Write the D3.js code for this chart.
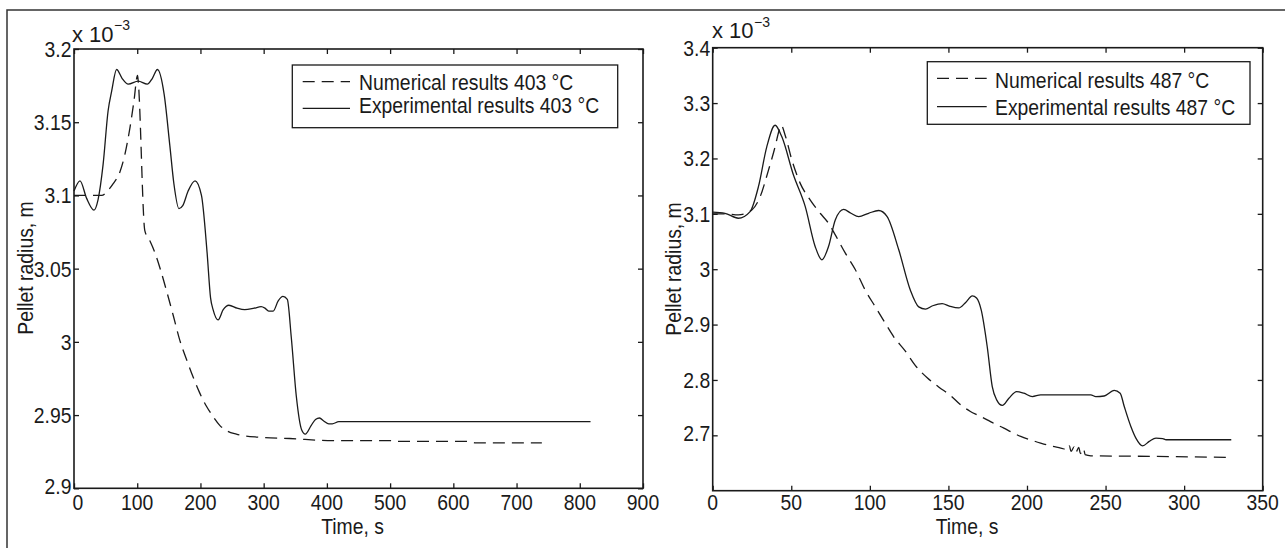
<!DOCTYPE html>
<html>
<head>
<meta charset="utf-8">
<script src="https://cdn.jsdelivr.net/npm/d3@7"></script>
<style>
  html, body { margin: 0; padding: 0; background: #fff; }
  svg { display: block; font-family: "Liberation Sans", Arial, Helvetica, sans-serif; }
  text { fill: #1a1a1a; }
</style>
</head>
<body>
<svg id="chart" width="1285" height="548"></svg>
<script>
// ---------------- DATA ----------------
// Left panel: 403 °C   (time in s, radius in 1e-3 m)
const leftXTicks = [0, 100, 200, 300, 400, 500, 600, 700, 800, 900];
const leftYTicks = [2.9, 2.95, 3, 3.05, 3.1, 3.15, 3.2];
const leftYTickLabels = ["2.9", "2.95", "3", "3.05", "3.1", "3.15", "3.2"];
const leftNumerical = [
  [0,3.100],[20,3.100],[43.7,3.100],[55,3.104],[62,3.108],[72.6,3.116],[80.5,3.128],
  [88.4,3.146],[94.7,3.164],[100.5,3.182],[101.6,3.178],[112,3.076],[120,3.069],
  [127.9,3.061],[137,3.049],[146.3,3.035],[157,3.018],[167.4,3.001],[178,2.988],
  [188.4,2.976],[199,2.965],[209.5,2.956],[220,2.949],[230.5,2.943],[243,2.939],
  [256.9,2.937],[288.4,2.935],[341,2.934],[409.5,2.9325],[505,2.9325],[512,2.932],
  [625,2.932],[635,2.931],[740,2.931]
];
const leftExperimental = [
  [0,3.103],[9.5,3.110],[20,3.098],[31.6,3.090],[38,3.097],[46,3.121],[54,3.158],
  [59.5,3.171],[67.4,3.186],[76,3.180],[85.8,3.176],[101.6,3.178],[115.8,3.176],
  [124,3.180],[132,3.186],[142.6,3.169],[151.6,3.134],[158,3.108],[166,3.091],
  [172,3.093],[180.5,3.103],[191.5,3.110],[201.6,3.100],[210.5,3.061],[216,3.030],
  [220,3.022],[227.9,3.015],[236,3.022],[245,3.025],[258,3.023],[270,3.022],
  [285,3.023],[296,3.024],[302,3.023],[308,3.021],[315,3.021],[323,3.028],
  [330.5,3.031],[337.4,3.029],[343.7,3.003],[351.6,2.963],[360,2.940],[365.8,2.937],
  [375.3,2.943],[382,2.947],[388.4,2.948],[395,2.946],[403,2.944],[408.5,2.944],
  [418.9,2.9455],[500,2.9455],[650,2.9455],[817,2.9455]
];
const leftLegend = ["Numerical results 403 \u00B0C", "Experimental results 403 \u00B0C"];

// Right panel: 487 °C
const rightXTicks = [0, 50, 100, 150, 200, 250, 300, 350];
const rightYTicks = [2.7, 2.8, 2.9, 3, 3.1, 3.2, 3.3, 3.4];
const rightYTickLabels = ["2.7", "2.8", "2.9", "3", "3.1", "3.2", "3.3", "3.4"];
const rightNumerical = [
  [0,3.100],[8,3.100],[16.3,3.098],[24.9,3.107],[30.2,3.131],[35.5,3.179],[39.7,3.221],
  [42.3,3.251],[43.6,3.260],[46.1,3.242],[50.4,3.197],[55.7,3.155],[62,3.125],
  [68.4,3.101],[73.7,3.083],[78,3.062],[84.4,3.029],[90.8,2.999],[97.1,2.962],
  [103.5,2.932],[109.9,2.902],[115.2,2.878],[122.6,2.852],[129,2.826],[136.5,2.804],
  [144,2.787],[151.3,2.772],[157,2.757],[164,2.743],[169,2.736],[174.7,2.728],
  [180,2.720],[185.3,2.713],[190,2.706],[196,2.698],[202,2.692],[208.7,2.686],
  [215,2.681],[221.5,2.677],[226,2.674],[227,2.681],[228,2.671],[230,2.679],
  [231,2.669],[233,2.678],[234,2.667],[236,2.676],[237,2.665],[240.6,2.663],
  [280,2.662],[330,2.660]
];
const rightExperimental = [
  [0,3.103],[7.8,3.101],[16.3,3.092],[23.8,3.104],[29.1,3.149],[34.4,3.221],[39.7,3.260],
  [44,3.239],[51.4,3.170],[58.9,3.113],[65.2,3.041],[69.5,3.017],[73.7,3.041],[78,3.089],
  [83.3,3.108],[88,3.101],[92.9,3.095],[99.2,3.101],[105.6,3.106],[111,3.095],
  [118.4,3.035],[125.8,2.962],[131.1,2.932],[135.4,2.928],[140,2.934],[146,2.938],
  [151,2.933],[156.6,2.930],[161,2.940],[165.2,2.952],[167.9,2.948],[170.9,2.926],
  [174.7,2.860],[177.9,2.788],[180.7,2.764],[184.3,2.754],[188.5,2.767],[193.4,2.779],
  [198,2.776],[203.4,2.770],[208.7,2.773],[240.6,2.773],[243.8,2.770],[249.1,2.771],
  [255.5,2.781],[259.3,2.776],[261.9,2.752],[266.1,2.716],[269.3,2.695],[273.6,2.681],
  [277.8,2.689],[282.1,2.695],[286.4,2.694],[288.5,2.692],[330,2.692]
];
const rightLegend = ["Numerical results 487 \u00B0C", "Experimental results 487 \u00B0C"];

const xTitle = "Time, s";
const yTitle = "Pellet radius, m";
const expBase = "x 10";
const expSup = "\u22123";

// ---------------- LAYOUT ----------------
const SX = 0.88;          // horizontal squeeze of the narrow Helvetica look
const FS = 22;            // main font size
const ink = "#1a1a1a";

const svg = d3.select("#chart");
svg.append("rect").attr("width", 1285).attr("height", 548).attr("fill", "#fff");

// outer figure frame (top and left edges visible)
svg.append("path").attr("d", "M7,548 V10 H1290")
  .attr("fill", "none").attr("stroke", "#333").attr("stroke-width", 1.5);

function label(g, x, y, s, anchor, size, rotate) {
  g.append("text")
    .attr("transform", `translate(${x},${y})` + (rotate ? ` rotate(${rotate})` : "") + ` scale(${SX},1)`)
    .attr("text-anchor", anchor)
    .attr("font-size", size)
    .text(s);
}

const panels = [
  { x0: 74, x1: 643, y0: 488.3, y1: 49, xDom: [0, 900], yDom: [2.9, 3.2],
    xTicks: leftXTicks, yTicks: leftYTicks, yLabels: leftYTickLabels, firstShift: 4,
    num: leftNumerical, exp: leftExperimental, legend: leftLegend,
    lg: { x0: 292.3, y0: 65, x1: 617.7, y1: 127.7, l0: 302.7, l1: 350, tx: 359, ly: [81.7, 108.3], ty: [89.8, 113] },
    yTitleX: 33, yTitleY: 268, xTitleX: 352.5, xTitleY: 534,
    expX: 72, expY: 41.7, supX: 114, supY: 30 },
  { x0: 712.7, x1: 1262.7, y0: 490.7, y1: 47.7, xDom: [0, 350], yDom: [2.6, 3.4],
    xTicks: rightXTicks, yTicks: rightYTicks, yLabels: rightYTickLabels, firstShift: 0,
    num: rightNumerical, exp: rightExperimental, legend: rightLegend,
    lg: { x0: 927.3, y0: 61.7, x1: 1250, y1: 124.3, l0: 937, l1: 986.7, tx: 995, ly: [78.3, 106.7], ty: [87.5, 114.5] },
    yTitleX: 681, yTitleY: 269, xTitleX: 967, xTitleY: 534,
    expX: 712, expY: 38.3, supX: 754, supY: 27 }
];

panels.forEach(p => {
  const g = svg.append("g");
  const x = d3.scaleLinear().domain(p.xDom).range([p.x0, p.x1]);
  const y = d3.scaleLinear().domain(p.yDom).range([p.y0, p.y1]);
  const TL = 5;

  // data lines
  const line = d3.line().x(d => x(d[0])).y(d => y(d[1])).curve(d3.curveMonotoneX);
  g.append("path").datum(p.num).attr("d", line)
    .attr("fill", "none").attr("stroke", ink).attr("stroke-width", 1.3)
    .attr("stroke-dasharray", "12,7");
  g.append("path").datum(p.exp).attr("d", line)
    .attr("fill", "none").attr("stroke", ink).attr("stroke-width", 1.3);

  // axes via d3 axis generators (inward ticks), labels drawn separately
  const axB = d3.axisBottom(x).tickValues(p.xTicks).tickSizeInner(-TL).tickSizeOuter(0).tickFormat("");
  const axT = d3.axisTop(x).tickValues(p.xTicks).tickSizeInner(-TL).tickSizeOuter(0).tickFormat("");
  const axL = d3.axisLeft(y).tickValues(p.yTicks).tickSizeInner(-TL).tickSizeOuter(0).tickFormat("");
  const axR = d3.axisRight(y).tickValues(p.yTicks).tickSizeInner(-TL).tickSizeOuter(0).tickFormat("");
  [[axB, `translate(0,${p.y0})`], [axT, `translate(0,${p.y1})`],
   [axL, `translate(${p.x0},0)`], [axR, `translate(${p.x1},0)`]].forEach(([ax, tr]) => {
    const a = g.append("g").attr("transform", tr).call(ax);
    a.select(".domain").remove();
    a.selectAll("line").attr("stroke", ink).attr("stroke-width", 1.3);
  });
  g.append("rect").attr("x", p.x0).attr("y", p.y1)
    .attr("width", p.x1 - p.x0).attr("height", p.y0 - p.y1)
    .attr("fill", "none").attr("stroke", ink).attr("stroke-width", 1.6);

  // tick labels
  p.xTicks.forEach((t, i) => label(g, x(t) + (i === 0 ? p.firstShift : 0), 510, String(t), "middle", FS));
  p.yTicks.forEach((t, i) => label(g, p.x0 - 2.5, y(t) + 7.9 - (i === 0 ? 2 : 0), p.yLabels[i], "end", FS));

  // exponent
  g.append("text").attr("x", p.expX).attr("y", p.expY).attr("font-size", FS).text(expBase);
  g.append("text").attr("x", p.supX).attr("y", p.supY).attr("font-size", 14).text(expSup);

  // titles
  label(g, p.xTitleX, p.xTitleY, xTitle, "middle", FS);
  label(g, p.yTitleX, p.yTitleY, yTitle, "middle", FS, -90);

  // legend
  const L = p.lg;
  g.append("rect").attr("x", L.x0).attr("y", L.y0).attr("width", L.x1 - L.x0).attr("height", L.y1 - L.y0)
    .attr("fill", "#fff").attr("stroke", ink).attr("stroke-width", 1.3);
  g.append("line").attr("x1", L.l0).attr("x2", L.l1).attr("y1", L.ly[0]).attr("y2", L.ly[0])
    .attr("stroke", ink).attr("stroke-width", 1.3).attr("stroke-dasharray", "12,7");
  g.append("line").attr("x1", L.l0).attr("x2", L.l1).attr("y1", L.ly[1]).attr("y2", L.ly[1])
    .attr("stroke", ink).attr("stroke-width", 1.3);
  label(g, L.tx, L.ty[0], p.legend[0], "start", FS);
  label(g, L.tx, L.ty[1], p.legend[1], "start", FS);
});
</script>
</body>
</html>
